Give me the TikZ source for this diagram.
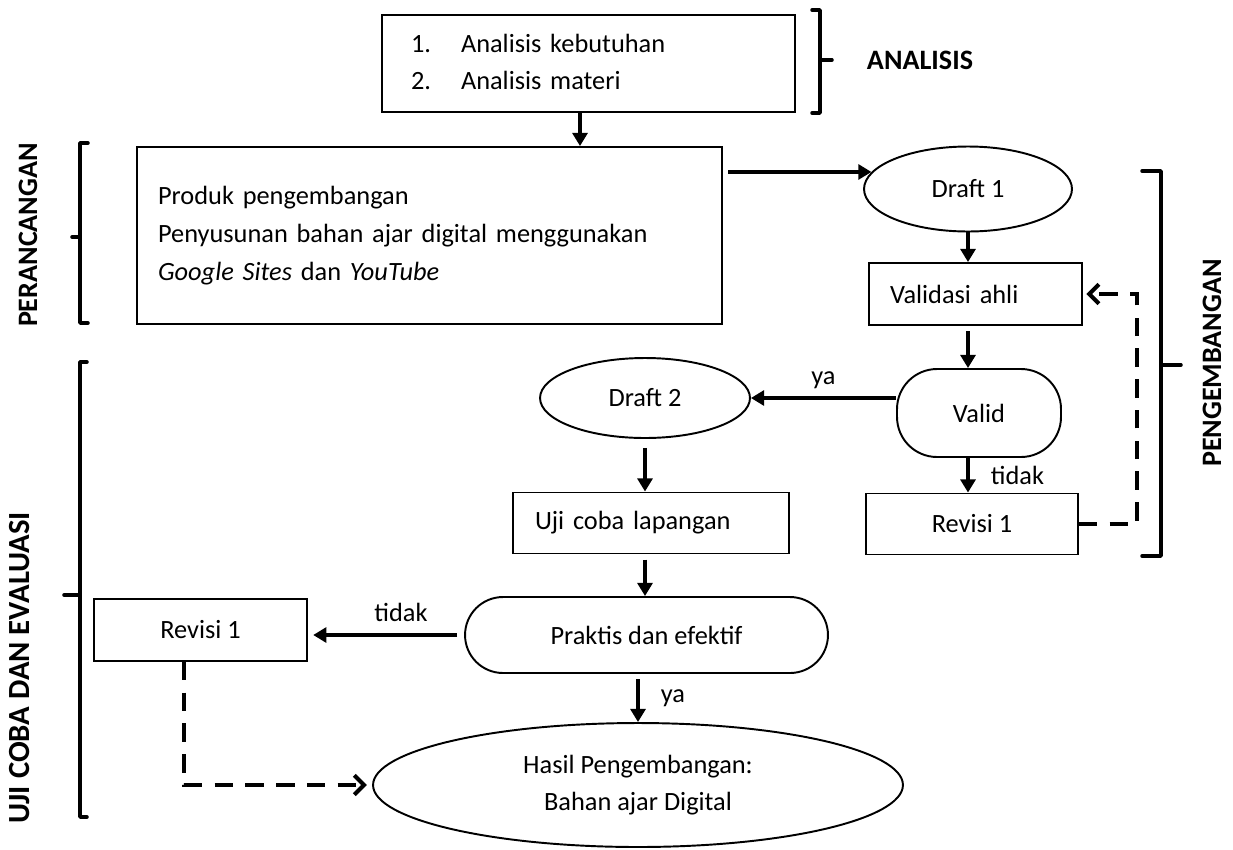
\documentclass[tikz,border=0pt]{standalone}
\usepackage{fontspec}
\setmainfont{Carlito}
\usetikzlibrary{arrows.meta,shapes.geometric}

\begin{document}
\begin{tikzpicture}[x=0.02cm,y=-0.02cm,
    box/.style={draw,line width=1.1pt,inner sep=0pt,font=\fontsize{15}{21.5}\selectfont},
    oval/.style={box,ellipse},
    pill/.style={box,rounded corners=0.76cm},
    flow/.style={line width=2.3pt,-{Triangle[length=7.5pt,width=8.5pt]}},
    back/.style={line width=2.3pt,dash pattern=on 10.5pt off 7pt,-{Straight Barb[length=5.5pt,width=11pt,line width=2.3pt]}},
    brak/.style={line width=2pt,line cap=round,line join=round},
    phase/.style={font=\fontsize{16}{19}\selectfont\bfseries},
    lbl/.style={font=\fontsize{15}{18}\selectfont}]
  \useasboundingbox (0,0) rectangle (1233,849);

  %%%%% boxes %%%%%
  \node[box,minimum width=8.26cm,minimum height=1.94cm,text width=7.1cm,inner xsep=0.58cm,align=left] (analisis) at (588.5,63.5)
    {\begin{tabular}{@{}p{1cm}@{}l@{}}1. & Analisis kebutuhan\\ 2. & Analisis materi\end{tabular}};
  \node[box,minimum width=11.7cm,minimum height=3.54cm,text width=10.86cm,inner xsep=0.42cm,align=left] (perancangan) at (429.5,235.5)
    {Produk pengembangan\\ Penyusunan bahan ajar digital menggunakan\\ \textit{Google Sites} dan \textit{YouTube}};
  \node[oval,minimum width=4.16cm,minimum height=1.7cm] (draft1) at (968,189) {Draft 1};
  \node[box,minimum width=4.26cm,minimum height=1.24cm,text width=3.42cm,inner xsep=0.42cm,align=left] (validasi) at (975.5,294) {Validasi ahli};
  \node[pill,minimum width=3.28cm,minimum height=1.76cm,rounded corners=0.8cm] (valid) at (979,413) {Valid};
  \node[oval,minimum width=4.2cm,minimum height=1.6cm] (draft2) at (645,398) {Draft 2};
  \node[box,minimum width=5.52cm,minimum height=1.22cm,text width=4.64cm,inner xsep=0.44cm,align=left] (uji) at (651,523) {Uji coba lapangan};
  \node[box,minimum width=4.24cm,minimum height=1.22cm] (revisiA) at (972,524) {Revisi 1};
  \node[pill,minimum width=7.26cm,minimum height=1.52cm] (praktis) at (646.5,635) {Praktis dan efektif};
  \node[box,minimum width=4.26cm,minimum height=1.24cm] (revisiB) at (200.5,630) {Revisi 1};
  \node[oval,minimum width=10.6cm,minimum height=2.48cm,align=center] (hasil) at (638,785) {Hasil Pengembangan:\\ Bahan ajar Digital};

  %%%%% phase labels %%%%%
  \node[phase] (lblAnalisis) at (920,60) {ANALISIS};
  \node[phase,rotate=90] (lblRancang) at (28,235) {PERANCANGAN};
  \node[phase,rotate=90] (lblKembang) at (1212,363) {PENGEMBANGAN};
  \node[phase,rotate=90,font=\fontsize{17.5}{20}\selectfont\bfseries] (lblUji) at (20,668) {UJI COBA DAN EVALUASI};

  \draw[brak] (812,10) -- (820,10) -- (820,113) -- (812,113);
  \draw[brak] (820,60) -- (832,60);
  \draw[brak] (88,143) -- (80,143) -- (80,323) -- (88,323);
  \draw[brak] (80,237) -- (72,237);
  \draw[brak] (1142,171) -- (1161,171) -- (1161,556) -- (1142,556);
  \draw[brak] (1161,365) -- (1181,365);
  \draw[brak] (87,362) -- (80,362) -- (80,817) -- (87,817);
  \draw[brak] (80,595) -- (64,595);

  %%%%% arrows %%%%%
  \coordinate (colA) at (580,0);
  \coordinate (loopR) at (1137,0);
  \coordinate (loopL) at (184,0);

  \draw[flow] (analisis.south -| colA) -- (perancangan.north -| colA);
  \draw[flow,shorten <=3pt] (perancangan.east |- draft1.170) -- (draft1.170);
  \draw[flow] (draft1.south) -- (draft1.south |- validasi.north);
  \draw[flow,shorten <=3pt] (validasi.south -| draft1) -- (valid.north -| draft1);
  \draw[flow] (valid.west |- draft2) -- (draft2.east) node[midway,above,lbl,yshift=1pt] {ya};
  \draw[flow] (valid.south -| draft1) -- (revisiA.north -| draft1) node[midway,right,lbl,xshift=0.3cm] {tidak};
  \draw[flow,shorten <=5pt] (draft2.south) -- (draft2.south |- uji.north);
  \draw[flow,shorten <=3pt] (uji.south -| draft2) -- (praktis.north -| draft2);
  \draw[flow,shorten <=4pt,shorten >=3pt] (praktis.west) -- (revisiB.east |- praktis.west) node[midway,above,lbl,yshift=3pt,xshift=0.3cm] {tidak};
  \draw[flow,shorten <=3pt] (praktis.south -| hasil) -- (hasil.north) node[midway,right,lbl,xshift=0.3cm] {ya};

  \draw[back,shorten >=2pt] (revisiA.east) -- (revisiA.east -| loopR) -- (validasi.east -| loopR) -- (validasi.east);
  \draw[back,shorten >=3pt] (revisiB.south -| loopL) -- (hasil.west -| loopL) -- (hasil.west);
\end{tikzpicture}
\end{document}
